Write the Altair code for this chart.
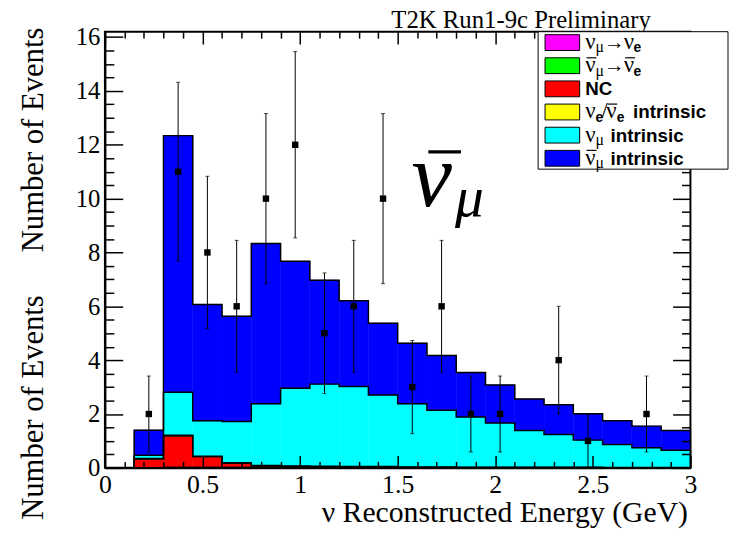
import altair as alt
import pandas as pd

# ---------------- data ----------------
bin_edges = [0.15, 0.30, 0.45, 0.60, 0.75, 0.90, 1.05, 1.20, 1.35, 1.50,
             1.65, 1.80, 1.95, 2.10, 2.25, 2.40, 2.55, 2.70, 2.85, 3.00]
bin_centers = [0.225, 0.375, 0.525, 0.675, 0.825, 0.975, 1.125, 1.275, 1.425, 1.575,
               1.725, 1.875, 2.025, 2.175, 2.325, 2.475, 2.625, 2.775, 2.925]

components = ["νμ→νe", "ν̄μ→ν̄e", "NC", "νe/ν̄e intrinsic", "νμ intrinsic", "ν̄μ intrinsic"]
colors = ["#ff00ff", "#00ff00", "#ff0000", "#ffff00", "#00ffff", "#0000ff"]

numu_to_nue = [0.00, 0.01, 0.01, 0.01, 0.01, 0.01, 0.01, 0.01, 0.01, 0.00,
               0.00, 0.00, 0.00, 0.00, 0.00, 0.00, 0.00, 0.00, 0.00]
numubar_to_nuebar = [0.00, 0.00, 0.00, 0.00, 0.00, 0.00, 0.00, 0.00, 0.00, 0.00,
                     0.00, 0.00, 0.00, 0.00, 0.00, 0.00, 0.00, 0.00, 0.00]
nc = [0.33, 1.17, 0.40, 0.16, 0.06, 0.04, 0.03, 0.02, 0.02, 0.01,
      0.01, 0.01, 0.01, 0.01, 0.01, 0.01, 0.00, 0.00, 0.00]
nue_intrinsic = [0.02, 0.03, 0.02, 0.02, 0.02, 0.02, 0.02, 0.02, 0.02, 0.02,
                 0.02, 0.01, 0.01, 0.01, 0.01, 0.01, 0.01, 0.01, 0.01]
numu_intrinsic = [0.12, 1.60, 1.32, 1.53, 2.29, 2.89, 3.05, 2.97, 2.66, 2.35,
                  2.11, 1.87, 1.65, 1.37, 1.22, 1.01, 0.86, 0.74, 0.64]
numubar_intrinsic = [0.93, 9.53, 4.32, 3.91, 5.95, 4.71, 3.86, 3.19, 2.66, 2.25,
                     2.03, 1.65, 1.41, 1.17, 1.10, 0.98, 0.88, 0.80, 0.74]

obs_counts = [2, 11, 8, 6, 10, 12, 5, 6, 10, 3, 6, 2, 2, 0, 4, 1, 0, 2, 0]
obs_err = [1.41, 3.32, 2.83, 2.45, 3.16, 3.46, 2.24, 2.45, 3.16, 1.73,
           2.45, 1.41, 1.41, 0.00, 2.00, 1.00, 0.00, 1.41, 0.00]

x_major = [0, 0.5, 1.0, 1.5, 2.0, 2.5, 3.0]
x_minor = [0.1, 0.2, 0.3, 0.4, 0.6, 0.7, 0.8, 0.9, 1.1, 1.2, 1.3, 1.4, 1.6, 1.7,
           1.8, 1.9, 2.1, 2.2, 2.3, 2.4, 2.6, 2.7, 2.8, 2.9]
x_top_major = [0, 0.5, 1.0, 1.5, 2.0]
x_top_minor = [0.1, 0.2, 0.3, 0.4, 0.6, 0.7, 0.8, 0.9, 1.1, 1.2, 1.3, 1.4, 1.6, 1.7,
               1.8, 1.9, 2.1, 2.2]
y_major = [0, 2, 4, 6, 8, 10, 12, 14, 16]
y_minor = [0.5, 1.0, 1.5, 2.5, 3.0, 3.5, 4.5, 5.0, 5.5, 6.5, 7.0, 7.5, 8.5, 9.0, 9.5,
           10.5, 11.0, 11.5, 12.5, 13.0, 13.5, 14.5, 15.0, 15.5]
y_right_major = [0, 2, 4, 6, 8, 10]
y_right_minor = [0.5, 1.0, 1.5, 2.5, 3.0, 3.5, 4.5, 5.0, 5.5, 6.5, 7.0, 7.5, 8.5,
                 9.0, 9.5, 10.5, 11.0]

# ---------------- tables built from the arrays ----------------
series = [numu_to_nue, numubar_to_nuebar, nc, nue_intrinsic, numu_intrinsic, numubar_intrinsic]
nb = len(bin_centers)
rect_rows, outline_rows = [], []
cum = [0.0] * nb
for k, (name, vals) in enumerate(zip(components, series)):
    new = [c + v for c, v in zip(cum, vals)]
    for i in range(nb):
        rect_rows.append(dict(comp=name, lo=bin_edges[i], hi=bin_edges[i + 1],
                              y0=cum[i], y1=new[i]))
    pts = [(bin_edges[0], 0.0)] + [(bin_edges[i], new[i]) for i in range(nb)] \
        + [(bin_edges[nb], new[nb - 1]), (bin_edges[nb], 0.0)]
    for j, (xx, yy) in enumerate(pts):
        outline_rows.append(dict(level=k, idx=j, x=xx, y=yy))
    cum = new
rect_df = pd.DataFrame(rect_rows)
outline_df = pd.DataFrame(outline_rows)

pts_df = pd.DataFrame(dict(x=bin_centers, n=obs_counts, err=obs_err))
pts_df = pts_df[pts_df.n > 0].copy()
pts_df["lo"] = pts_df.n - pts_df.err
pts_df["hi"] = pts_df.n + pts_df.err
caps_df = pd.concat([pts_df[["x", "lo"]].rename(columns={"lo": "y"}),
                     pts_df[["x", "hi"]].rename(columns={"hi": "y"})])

one = pd.DataFrame({"k": [0]})

# ---------------- scales / axes ----------------
SERIF = "Liberation Serif"
SANS = "Liberation Sans"
xs = alt.Scale(domain=[0, 3], nice=False, zero=False)
ys = alt.Scale(domain=[0, 16.2], nice=False, zero=False)


def tick_axis(orient, values, length):
    return alt.Axis(orient=orient, values=values, tickSize=length, offset=-length,
                    labels=False, domain=False, grid=False, ticks=True,
                    tickColor="black", tickWidth=1.5, title=None, zindex=1)


x_lab = alt.Axis(orient="bottom", values=x_major, format="~g", ticks=False, tickSize=0,
                 domain=True, domainColor="black", domainWidth=2, grid=False,
                 labelFont=SERIF, labelFontSize=26, labelColor="black",
                 labelPadding=25, labelBaseline="alphabetic", labelFlush=False,
                 labelOverlap=False,
                 title="ν Reconstructed Energy (GeV)", titleFont=SERIF,
                 titleFontSize=30, titleFontWeight="normal", titleColor="black",
                 titleAlign="right", titleX=589, titleY=54,
                 titleBaseline="alphabetic", zindex=1)
y_lab = alt.Axis(orient="left", values=y_major, format="~g", ticks=False, tickSize=0,
                 domain=True, domainColor="black", domainWidth=2, grid=False,
                 labelFont=SERIF, labelFontSize=25, labelColor="black",
                 labelPadding=5, labelBaseline="middle", labelFlush=False,
                 labelOverlap=False,
                 title="Number of Events", titleFont=SERIF, titleFontSize=31,
                 titleFontWeight="normal", titleColor="black", titleAngle=270,
                 titleAlign="center", titleX=-63, titleY=109,
                 titleBaseline="alphabetic", zindex=1)

color_scale = alt.Scale(domain=components, range=colors)

bars = alt.Chart(rect_df).mark_rect(strokeWidth=0.5).encode(
    x=alt.X("lo:Q", scale=xs, axis=x_lab),
    x2="hi:Q",
    y=alt.Y("y0:Q", scale=ys, axis=y_lab),
    y2="y1:Q",
    color=alt.Color("comp:N", scale=color_scale, legend=None),
    stroke=alt.Stroke("comp:N", scale=color_scale, legend=None),
)

outline = alt.Chart(outline_df).mark_line(
    interpolate="step-after", color="black", strokeWidth=1.5).encode(
    x=alt.X("x:Q", scale=xs, axis=tick_axis("bottom", x_major, 12.5)),
    y=alt.Y("y:Q", scale=ys, axis=tick_axis("left", y_major, 18)),
    detail="level:N",
    order="idx:Q",
)

errs = alt.Chart(pts_df).mark_rule(color="black", strokeWidth=1).encode(
    x=alt.X("x:Q", scale=xs, axis=tick_axis("bottom", x_minor, 6.5)),
    y=alt.Y("lo:Q", scale=ys, axis=tick_axis("left", y_minor, 9)),
    y2="hi:Q",
)

caps = alt.Chart(caps_df).mark_tick(orient="horizontal", size=4, thickness=1,
                                    color="black").encode(
    x=alt.X("x:Q", scale=xs, axis=tick_axis("top", x_top_major, 12.5)),
    y=alt.Y("y:Q", scale=ys, axis=tick_axis("right", y_right_major, 18)),
)

squares = alt.Chart(pts_df).mark_square(size=42, color="black", opacity=1,
                                        filled=True).encode(
    x=alt.X("x:Q", scale=xs, axis=tick_axis("top", x_top_minor, 6.5)),
    y=alt.Y("n:Q", scale=ys, axis=tick_axis("right", y_right_minor, 9)),
)


def txt(s, x, y, size, font, weight="normal", style="normal", align="left", angle=0):
    return alt.Chart(one).mark_text(
        fontSize=size, font=font, fontWeight=weight, fontStyle=style,
        align=align, baseline="alphabetic", color="black", angle=angle).encode(
        x=alt.value(x), y=alt.value(y), text=alt.value(s))


def hbar(x1, x2, y, w=1.2):
    return alt.Chart(one).mark_rule(color="black", strokeWidth=w).encode(
        x=alt.value(x1), x2=alt.value(x2), y=alt.value(y))


layers = [bars, outline, errs, caps, squares]

# big annotation nu-bar mu
layers += [txt("ν", 310, 176, 92, SERIF, style="italic"),
           hbar(327, 360, 121.5, 3.5),
           txt("μ", 354, 186, 58, SERIF, style="italic")]

# header text
layers.append(txt("T2K Run1-9c Preliminary", 552, -3.5, 25, SERIF, align="right"))
# second (overlapping) y title seen at the lower left
layers.append(txt("Number of Events", -63, 380, 31, SERIF, align="center", angle=270))

# legend
layers.append(alt.Chart(one).mark_rect(fill="white", stroke="black", strokeWidth=1).encode(
    x=alt.value(438), x2=alt.value(630), y=alt.value(0), y2=alt.value(139)))
row_cy = [11, 34.4, 57.8, 81.2, 104.6, 128.0]
for cy, col in zip(row_cy, colors):
    layers.append(alt.Chart(one).mark_rect(fill=col, stroke="black", strokeWidth=1).encode(
        x=alt.value(445), x2=alt.value(480), y=alt.value(cy - 8), y2=alt.value(cy + 8)))

GS = 23   # greek size in legend
SS = 16   # subscript size
for r in (0, 1):
    cy = row_cy[r]
    layers += [txt("ν", 485.7, cy + 6.5, GS, SERIF),
               txt("μ", 496, cy + 10, SS, SERIF),
               txt("→", 504.5, cy + 6, 21, SERIF),
               txt("ν", 524.7, cy + 6.5, GS, SERIF),
               txt("e", 534.5, cy + 10, 14, SANS, weight="bold")]
    if r == 1:
        layers += [hbar(487, 497, cy - 8), hbar(526, 536, cy - 8)]
cy = row_cy[2]
layers.append(txt("NC", 485.7, cy + 6.5, 19, SANS, weight="bold"))
cy = row_cy[3]
layers += [txt("ν", 485.7, cy + 6.5, GS, SERIF),
           txt("e", 496, cy + 10, 14, SANS, weight="bold"),
           txt("/", 502, cy + 6.5, GS, SERIF),
           txt("ν", 507, cy + 6.5, GS, SERIF),
           txt("e", 517.5, cy + 10, 14, SANS, weight="bold"),
           txt("intrinsic", 534, cy + 6.5, 19, SANS, weight="bold"),
           hbar(508.5, 518, cy - 8)]
for r in (4, 5):
    cy = row_cy[r]
    layers += [txt("ν", 485.7, cy + 6.5, GS, SERIF),
               txt("μ", 496, cy + 10, SS, SERIF),
               txt("intrinsic", 511.3, cy + 6.5, 19, SANS, weight="bold")]
    if r == 5:
        layers.append(hbar(487, 497, cy - 8))

chart = alt.layer(*layers).resolve_axis(
    x="independent", y="independent"
).properties(
    width=592, height=441,
    padding={"left": 98, "top": 21, "right": 39, "bottom": 71},
    autosize=alt.AutoSizeParams(type="none"),
    background="white",
).configure_view(
    stroke="black", strokeWidth=2
).configure_axis(
    labelFont=SERIF, titleFont=SERIF
).configure_text(font=SERIF)

chart.save("out.html", embed_options={"renderer": "svg", "actions": False})
